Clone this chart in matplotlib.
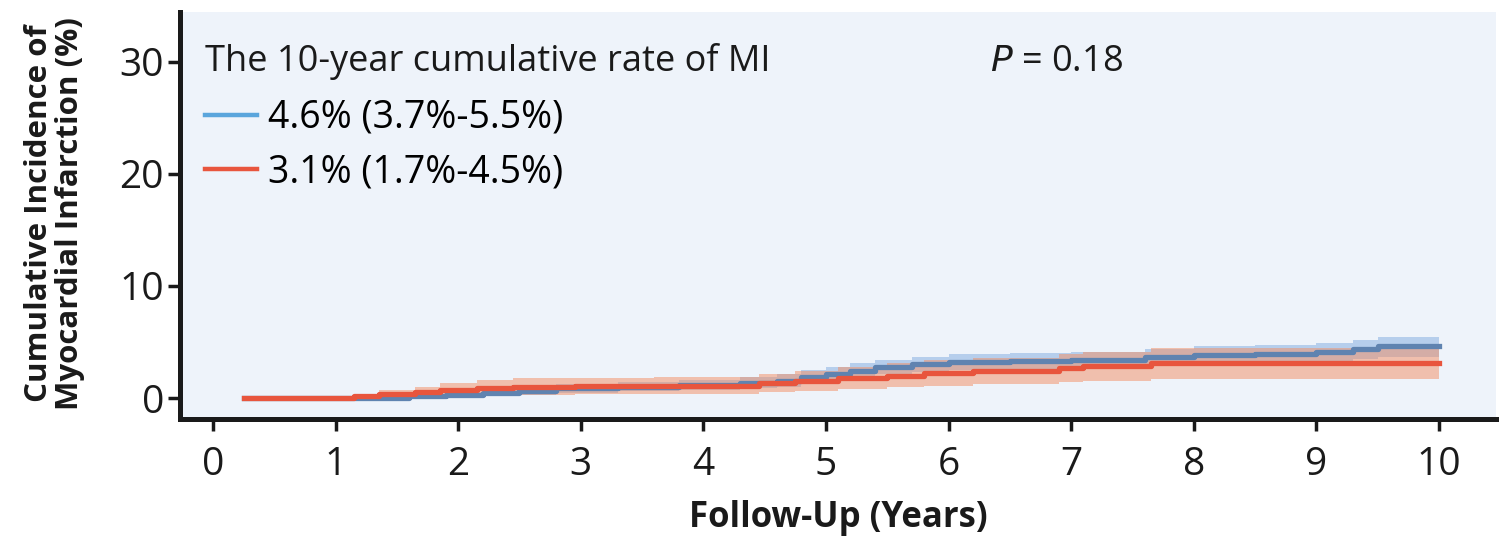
import matplotlib.pyplot as plt
from matplotlib.lines import Line2D

# cumulative incidence (%), step functions
blue_t = [0.25, 1.6, 1.9, 2.2, 2.5, 2.8, 3.3, 3.8, 4.3, 4.6, 4.8, 5.0, 5.2, 5.4, 5.7, 6.0, 6.5, 7.0, 7.6, 8.0, 8.5, 9.0, 9.3, 9.5, 10.0]
blue_y = [0, 0.15, 0.3, 0.45, 0.65, 0.85, 1.0, 1.15, 1.35, 1.55, 1.9, 2.15, 2.45, 2.75, 3.0, 3.2, 3.3, 3.4, 3.65, 3.8, 3.95, 4.1, 4.35, 4.6, 4.6]
blue_lo = [0, 0, 0.05, 0.15, 0.3, 0.45, 0.6, 0.7, 0.85, 1.0, 1.3, 1.5, 1.8, 2.1, 2.3, 2.5, 2.6, 2.7, 2.9, 3.0, 3.15, 3.3, 3.5, 3.7, 3.7]
blue_hi = [0, 0.3, 0.55, 0.75, 1.0, 1.25, 1.4, 1.6, 1.85, 2.1, 2.5, 2.8, 3.1, 3.4, 3.7, 3.9, 4.0, 4.1, 4.4, 4.6, 4.75, 4.9, 5.15, 5.4, 5.4]

red_t = [0.25, 1.15, 1.35, 1.65, 1.85, 2.15, 2.45, 2.95, 3.6, 4.45, 4.75, 5.1, 5.5, 5.8, 6.2, 6.9, 7.1, 7.65, 10.0]
red_y = [0, 0.2, 0.35, 0.55, 0.7, 0.9, 1.0, 1.05, 1.1, 1.3, 1.5, 1.8, 2.0, 2.25, 2.45, 2.65, 2.85, 3.1, 3.1]
red_lo = [0, 0, 0, 0.05, 0.1, 0.2, 0.3, 0.35, 0.4, 0.5, 0.6, 0.8, 0.95, 1.1, 1.25, 1.4, 1.5, 1.7, 1.7]
red_hi = [0, 0.4, 0.7, 1.0, 1.3, 1.6, 1.75, 1.8, 1.85, 2.1, 2.4, 2.8, 3.1, 3.4, 3.6, 3.9, 4.1, 4.5, 4.5]

legend_labels = ["4.6% (3.7%-5.5%)", "3.1% (1.7%-4.5%)"]
x_ticks = list(range(0, 11))
y_ticks = [0, 10, 20, 30]

BLUE = "#5aa5dc"
BLUE_LINE = "#5f83b0"
RED = "#e8553d"
INK = "#1a1a1a"

plt.rcParams["font.family"] = ["Open Sans", "DejaVu Sans"]

fig = plt.figure(figsize=(15.07, 5.37), dpi=100)
ax = fig.add_axes([0.1194, 0.2197, 0.8736, 0.7583])
ax.set_facecolor("#eef3fa")

# bands first, then the lines on top
ax.fill_between(blue_t, blue_lo, blue_hi, step="post", color="#b6ceec", lw=0)
ax.fill_between(red_t, red_lo, red_hi, step="post", color="#f28d62", alpha=0.5, lw=0)
ax.step(blue_t, blue_y, where="post", color=BLUE_LINE, lw=3.8)
ax.step(red_t, red_y, where="post", color=RED, lw=3.8)

ax.set_xlim(-0.27, 10.47)
ax.set_ylim(-1.875, 34.46)
ax.set_xticks(x_ticks)
ax.set_yticks(y_ticks)

for s in ["top", "right"]:
    ax.spines[s].set_visible(False)
for s in ["left", "bottom"]:
    ax.spines[s].set_linewidth(3.6)
    ax.spines[s].set_color(INK)
ax.tick_params(length=8.5, width=2.5, color=INK, labelsize=28, labelcolor=INK)
ax.tick_params(axis="x", pad=11)
ax.tick_params(axis="y", pad=3)

ax.set_xlabel("Follow-Up (Years)", fontsize=25, fontweight="bold", color=INK)
ax.xaxis.set_label_coords(0.5, -0.2)
ax.set_ylabel("Cumulative Incidence of\nMyocardial Infarction (%)", fontsize=22.5,
              fontweight="bold", linespacing=1.05, color=INK)
ax.yaxis.set_label_coords(-0.072, 0.505)

ax.text(-0.065, 30, "The 10-year cumulative rate of MI", fontsize=26, va="center",
        ha="left", color=INK)
ax.text(6.34, 30, "$\\it{P}$ = 0.18", fontsize=26, va="center", ha="left",
        color=INK)

handles = [Line2D([], [], color=BLUE, lw=3.2), Line2D([], [], color=RED, lw=3.2)]
ax.legend(handles, legend_labels, loc="upper left", bbox_to_anchor=(0.019, 0.786),
          frameon=False, fontsize=27, handlelength=1.39, handletextpad=0.3,
          labelspacing=0.44, borderaxespad=0, borderpad=0)

fig.savefig("out.png", dpi=100)
